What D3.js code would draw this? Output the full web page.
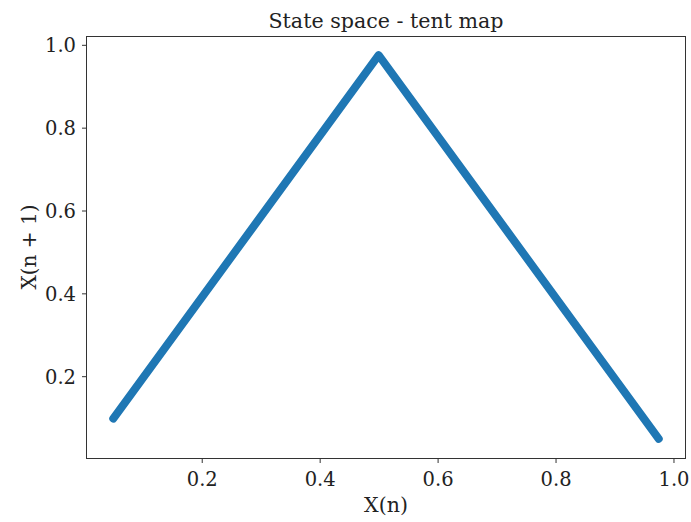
<!DOCTYPE html>
<html>
<head>
<meta charset="utf-8">
<script src="https://cdn.jsdelivr.net/npm/d3@7"></script>
<style>
  html, body { margin: 0; padding: 0; background: #fff; }
  svg { display: block; }
  text { font-family: "DejaVu Serif", serif; fill: #222; }
</style>
</head>
<body>
<svg id="chart" width="691" height="522"></svg>
<script>
// Tent map orbit: X(n) against X(n + 1), traced along its two branches
const xn  = [0.05, 0.5, 0.975];
const xn1 = [0.0975, 0.975, 0.04875];

const xTicks = [0.2, 0.4, 0.6, 0.8, 1.0];
const yTicks = [0.2, 0.4, 0.6, 0.8, 1.0];

const titleText = "State space - tent map";
const xLabel = "X(n)";
const yLabel = "X(n + 1)";

const W = 691, H = 522;
const m = { left: 86, right: 5, top: 36, bottom: 64 };

const svg = d3.select("#chart");

// 5% padding around the data range on each axis
const xr = d3.extent(xn), yr = d3.extent(xn1);
const xp = (xr[1] - xr[0]) * 0.05, yp = (yr[1] - yr[0]) * 0.05;

const x = d3.scaleLinear()
  .domain([xr[0] - xp, xr[1] + xp])
  .range([m.left, W - m.right]);
const y = d3.scaleLinear()
  .domain([yr[0] - yp, yr[1] + yp])
  .range([H - m.bottom, m.top]);

// the curve
const pts = xn.map((v, i) => [v, xn1[i]]);
svg.append("path")
  .datum(pts)
  .attr("d", d3.line().x(d => x(d[0])).y(d => y(d[1])))
  .attr("fill", "none")
  .attr("stroke", "#1f77b4")
  .attr("stroke-width", 8)
  .attr("stroke-linecap", "round")
  .attr("stroke-linejoin", "round");

// frame
svg.append("rect")
  .attr("x", m.left + 0.5)
  .attr("y", m.top + 0.5)
  .attr("width", W - m.right - m.left - 1)
  .attr("height", H - m.bottom - m.top)
  .attr("fill", "none")
  .attr("stroke", "#333")
  .attr("stroke-width", 1);

// axes
const xAxis = svg.append("g")
  .attr("transform", `translate(0,${H - m.bottom + 0.5})`)
  .call(d3.axisBottom(x).tickValues(xTicks).tickFormat(d3.format(".1f")).tickSize(4.5).tickPadding(9));
const yAxis = svg.append("g")
  .attr("transform", `translate(${m.left + 0.5},0)`)
  .call(d3.axisLeft(y).tickValues(yTicks).tickFormat(d3.format(".1f")).tickSize(4.5).tickPadding(6));

[xAxis, yAxis].forEach(g => {
  g.select(".domain").remove();
  g.selectAll(".tick line").attr("stroke", "#333").attr("stroke-width", 1);
  g.selectAll(".tick text")
    .attr("fill", "#222")
    .style("font-family", '"DejaVu Serif", serif')
    .style("font-size", "19.5px");
});
yAxis.selectAll(".tick text").attr("dy", "0.36em");

// title and axis labels
svg.append("text")
  .attr("x", (m.left + W - m.right) / 2)
  .attr("y", 28)
  .attr("text-anchor", "middle")
  .style("font-size", "20.6px")
  .text(titleText);

svg.append("text")
  .attr("x", (m.left + W - m.right) / 2)
  .attr("y", 512)
  .attr("text-anchor", "middle")
  .style("font-size", "20.5px")
  .text(xLabel);

svg.append("text")
  .attr("transform", `translate(36,${(m.top + H - m.bottom) / 2}) rotate(-90)`)
  .attr("text-anchor", "middle")
  .style("font-size", "20px")
  .text(yLabel);
</script>
</body>
</html>
